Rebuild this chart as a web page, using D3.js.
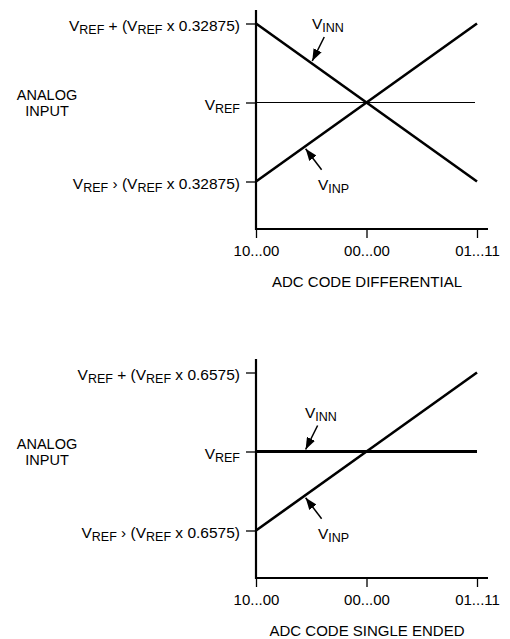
<!DOCTYPE html>
<html>
<head>
<meta charset="utf-8">
<script src="https://cdn.jsdelivr.net/npm/d3@7"></script>
<style>
  body { margin: 0; background: #fff; }
  svg { display: block; font-family: "Liberation Sans", Arial, sans-serif; }
</style>
</head>
<body>
<div id="chart"></div>
<script>
// x axis categories (ADC output code)
const codes = ["10...00", "00...00", "01...11"];

// offsets from VREF, as a fraction of VREF
const diffSpan = 0.32875;
const diffInn = [0.32875, 0, -0.32875];
const diffInp = [-0.32875, 0, 0.32875];

const seSpan = 0.6575;
const seInn = [0, 0, 0];
const seInp = [-0.6575, 0, 0.6575];

const panels = [
  {
    top: 0, span: diffSpan, inn: diffInn, inp: diffInp, title: "ADC CODE DIFFERENTIAL",
    spanLabel: "0.32875", refLine: true, innThick: false,
    innLabel: { code: 0.25, lx: 312 }, inpLabel: { code: 0.22, lx: 318 }
  },
  {
    top: 349, span: seSpan, inn: seInn, inp: seInp, title: "ADC CODE SINGLE ENDED",
    spanLabel: "0.6575", refLine: false, innThick: true,
    innLabel: { code: 0.22, lx: 305 }, inpLabel: { code: 0.22, lx: 318 }
  }
];

const W = 510, H = 639;
const axisX = 256;

const svg = d3.select("#chart").append("svg")
  .attr("width", W).attr("height", H);

svg.append("defs").append("marker")
  .attr("id", "arrow")
  .attr("viewBox", "0 0 12 9")
  .attr("refX", 12).attr("refY", 4.5)
  .attr("markerWidth", 12).attr("markerHeight", 9)
  .attr("markerUnits", "userSpaceOnUse")
  .attr("orient", "auto")
  .append("path").attr("d", "M0,0L12,4.5L0,9Z").attr("fill", "#000");

const x = d3.scalePoint().domain(codes).range([axisX, 477]);

// draws "V" + subscript + rest of the string
const vLabel = (g, sub, rest) => {
  g.append("tspan").text("V");
  g.append("tspan").attr("font-size", 12.5).attr("dy", 3).text(sub);
  if (rest) g.append("tspan").attr("dy", -3).text(rest);
};

panels.forEach(p => {
  const g = svg.append("g").attr("transform", `translate(0,${p.top})`);
  const y = d3.scaleLinear().domain([-p.span, p.span]).range([181.5, 23.5]);
  const axisY = 229;

  // y axis
  const yAxis = d3.axisLeft(y).tickValues([-p.span, 0, p.span]).tickSize(10).tickFormat("");
  const ya = g.append("g").attr("transform", `translate(${axisX},0)`).call(yAxis);
  ya.select(".domain").remove();
  ya.selectAll(".tick line").attr("stroke", "#000").attr("stroke-width", 1.3);
  g.append("line").attr("x1", axisX).attr("x2", axisX).attr("y1", 10).attr("y2", axisY + 1)
    .attr("stroke", "#000").attr("stroke-width", 2.2);

  // x axis
  const xAxis = d3.axisBottom(x).tickSize(9).tickPadding(7);
  const xa = g.append("g").attr("transform", `translate(0,${axisY})`).call(xAxis);
  xa.select(".domain").remove();
  xa.selectAll(".tick line").attr("stroke", "#000").attr("stroke-width", 1.3);
  xa.selectAll(".tick text").attr("font-size", 15).attr("fill", "#000")
    .attr("font-family", "Liberation Sans, Arial, sans-serif");
  g.append("line").attr("x1", axisX - 1).attr("x2", 488).attr("y1", axisY).attr("y2", axisY)
    .attr("stroke", "#000").attr("stroke-width", 2.2);

  g.append("text").attr("x", 367).attr("y", 287).attr("text-anchor", "middle")
    .attr("font-size", 15).text(p.title);

  // y labels
  const lab = (v, sym) => {
    const t = g.append("text").attr("x", 240).attr("y", y(v) + 7.5)
      .attr("text-anchor", "end").attr("font-size", 15.5);
    if (sym === null) { vLabel(t, "REF"); return; }
    t.append("tspan").text("V");
    t.append("tspan").attr("font-size", 12.5).attr("dy", 3).text("REF");
    t.append("tspan").attr("dy", -3).text(` ${sym} (V`);
    t.append("tspan").attr("font-size", 12.5).attr("dy", 3).text("REF");
    t.append("tspan").attr("dy", -3).text(` x ${p.spanLabel})`);
  };
  lab(p.span, "+");
  lab(0, null);
  lab(-p.span, "›");

  g.append("text").attr("x", 47).attr("y", y(0) - 2.5).attr("text-anchor", "middle")
    .attr("font-size", 14.5).text("ANALOG");
  g.append("text").attr("x", 47).attr("y", y(0) + 13.5).attr("text-anchor", "middle")
    .attr("font-size", 14.5).text("INPUT");

  // VREF reference line
  if (p.refLine) {
    g.append("line").attr("x1", axisX).attr("x2", 475).attr("y1", y(0)).attr("y2", y(0))
      .attr("stroke", "#000").attr("stroke-width", 1);
  }

  const line = d3.line().x((d, i) => x(codes[i])).y(d => y(d));
  g.append("path").attr("d", line(p.inn)).attr("fill", "none").attr("stroke", "#000")
    .attr("stroke-width", p.innThick ? 3.2 : 2.6);
  g.append("path").attr("d", line(p.inp)).attr("fill", "none").attr("stroke", "#000")
    .attr("stroke-width", 2.6);

  // annotation arrows
  const fx = d3.scaleLinear().domain([0, 1]).range([x(codes[0]), x(codes[2])]);
  const valAt = (arr, f) => f <= 0.5 ? arr[0] + (arr[1] - arr[0]) * f * 2 : arr[1] + (arr[2] - arr[1]) * (f - 0.5) * 2;

  const innPt = [fx(p.innLabel.code), y(valAt(p.inn, p.innLabel.code))];
  g.append("line").attr("x1", innPt[0] + 13).attr("y1", innPt[1] - 26)
    .attr("x2", innPt[0] + 1).attr("y2", innPt[1] - 2)
    .attr("stroke", "#000").attr("stroke-width", 1.5).attr("marker-end", "url(#arrow)");
  vLabel(g.append("text").attr("x", p.innLabel.lx).attr("y", innPt[1] - 34).attr("font-size", 15.5), "INN");

  const inpPt = [fx(p.inpLabel.code), y(valAt(p.inp, p.inpLabel.code))];
  g.append("line").attr("x1", inpPt[0] + 17).attr("y1", inpPt[1] + 23)
    .attr("x2", inpPt[0] + 1).attr("y2", inpPt[1] + 2)
    .attr("stroke", "#000").attr("stroke-width", 1.5).attr("marker-end", "url(#arrow)");
  vLabel(g.append("text").attr("x", p.inpLabel.lx).attr("y", inpPt[1] + 43).attr("font-size", 15.5), "INP");
});
</script>
</body>
</html>
